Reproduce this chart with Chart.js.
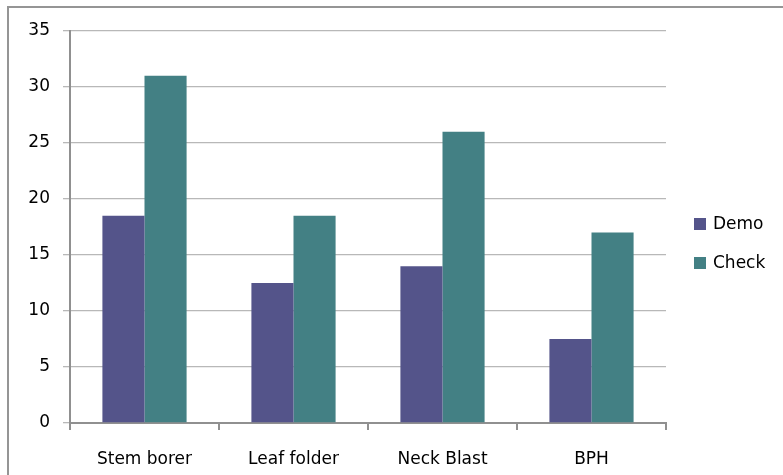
<!DOCTYPE html>
<html>
<head>
<meta charset="utf-8">
<script src="https://cdn.jsdelivr.net/npm/chart.js@4.4.1/dist/chart.umd.min.js"></script>
<style>
  html, body { margin: 0; padding: 0; background: #fff; }
  #wrap { position: relative; width: 783px; height: 475px; overflow: hidden; }
  #frame { position: absolute; left: 7px; top: 6px; width: 900px; height: 600px;
           border-left: 2px solid #959595; border-top: 2px solid #959595; }
  #chart { position: absolute; left: 0; top: 0; }
  .lg { position: absolute; left: 694px; font: 17px "DejaVu Sans", sans-serif; color: #000;
        height: 20px; line-height: 20px; white-space: nowrap; }
  .lg i { display: inline-block; width: 12px; height: 12px; margin-right: 7px; vertical-align: -1px; }
</style>
</head>
<body>
<div id="wrap">
  <div id="frame"></div>
  <canvas id="chart" width="783" height="475"></canvas>
  <div id="legend"></div>
</div>
<script>
(function () {
  'use strict';

  // pests on the x axis
  var categories = ['Stem borer', 'Leaf folder', 'Neck Blast', 'BPH'];
  var seriesNames = ['Demo', 'Check'];
  var demoValues = [18.5, 12.5, 14, 7.5];
  var checkValues = [31, 18.5, 26, 17];
  var yTicks = [0, 5, 10, 15, 20, 25, 30, 35];

  var colors = ['#54548a', '#438084'];
  var font = { family: '"DejaVu Sans", sans-serif', size: 17 };

  Chart.defaults.font.family = font.family;
  Chart.defaults.color = '#000';

  new Chart(document.getElementById('chart'), {
    type: 'bar',
    data: {
      labels: categories,
      datasets: [
        { label: seriesNames[0], data: demoValues, backgroundColor: colors[0] },
        { label: seriesNames[1], data: checkValues, backgroundColor: colors[1] }
      ]
    },
    options: {
      responsive: false,
      animation: false,
      layout: { padding: { top: 31, right: 117, bottom: 0, left: 0 } },
      plugins: { legend: { display: false }, tooltip: { enabled: false } },
      datasets: { bar: { categoryPercentage: 0.565, barPercentage: 1 } },
      scales: {
        x: {
          grid: { display: true, drawOnChartArea: false, drawTicks: true, tickLength: 7, color: '#909090', lineWidth: 2, offset: true },
          border: { color: '#909090', width: 2 },
          ticks: { font: font, color: '#000', padding: 19 },
          afterFit: function (s) { s.height = 52; }
        },
        y: {
          min: yTicks[0],
          max: yTicks[yTicks.length - 1],
          afterBuildTicks: function (s) { s.ticks = yTicks.map(function (v) { return { value: v }; }); },
          grid: { color: '#b8b8b8', lineWidth: 1.3, tickLength: 7 },
          border: { color: '#909090', width: 2 },
          ticks: { font: font, color: '#000', padding: 13 },
          afterFit: function (s) { s.width = 70; }
        }
      }
    }
  });

  // legend on the right, same look as the spreadsheet one
  var lg = document.getElementById('legend');
  var tops = [213, 252];
  seriesNames.forEach(function (name, i) {
    var el = document.createElement('div');
    el.className = 'lg';
    el.style.top = tops[i] + 'px';
    el.innerHTML = '<i style="background:' + colors[i] + '"></i>' + name;
    lg.appendChild(el);
  });
})();
</script>
</body>
</html>
